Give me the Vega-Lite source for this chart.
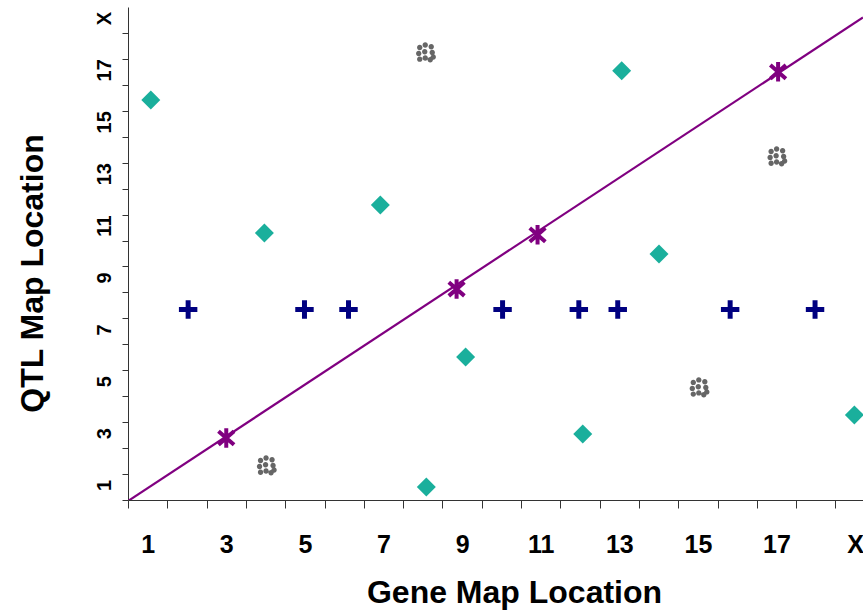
{
  "$schema": "https://vega.github.io/schema/vega-lite/v6.json",
  "width": 735,
  "height": 493,
  "autosize": {"type": "none"},
  "padding": {"left": 128, "top": 7, "right": 0, "bottom": 110},
  "background": "white",
  "config": {"view": {"stroke": null}, "font": "Liberation Sans"},
  "datasets": {
    "diamonds": [
      {"gene": 1.08, "qtl": 15.92}, {"gene": 3.97, "qtl": 10.79}, {"gene": 6.92, "qtl": 11.87},
      {"gene": 8.09, "qtl": 1.0}, {"gene": 9.09, "qtl": 6.01}, {"gene": 12.07, "qtl": 3.04},
      {"gene": 13.06, "qtl": 17.04}, {"gene": 14.01, "qtl": 9.98}, {"gene": 18.98, "qtl": 3.78}
    ],
    "crosses": [
      {"gene": 2.03, "qtl": 7.84}, {"gene": 4.99, "qtl": 7.84}, {"gene": 6.11, "qtl": 7.84},
      {"gene": 10.03, "qtl": 7.84}, {"gene": 11.97, "qtl": 7.84}, {"gene": 12.96, "qtl": 7.84},
      {"gene": 15.82, "qtl": 7.84}, {"gene": 17.98, "qtl": 7.84}
    ],
    "stars": [
      {"gene": 3.0, "qtl": 2.89}, {"gene": 8.86, "qtl": 8.63}, {"gene": 10.92, "qtl": 10.72}, {"gene": 17.04, "qtl": 17.0}
    ],
    "clusters": [
      {"gene": 8.07, "qtl": 17.73}, {"gene": 4.02, "qtl": 1.81}, {"gene": 15.03, "qtl": 4.82}, {"gene": 17.01, "qtl": 13.72}
    ],
    "diag": [
      {"gene": 0.5, "qtl": 0.46}, {"gene": 19.2, "qtl": 19.1}
    ]
  },
  "encoding": {
    "x": {
      "field": "gene", "type": "quantitative",
      "scale": {"domain": [0.5, 19.2], "nice": false, "zero": false},
      "axis": {
        "title": "Gene Map Location",
        "values": [0.5,1,1.5,2,2.5,3,3.5,4,4.5,5,5.5,6,6.5,7,7.5,8,8.5,9,9.5,10,10.5,11,11.5,12,12.5,13,13.5,14,14.5,15,15.5,16,16.5,17,17.5,18,18.5,19],
        "labelExpr": "datum.value % 2 == 1 ? (datum.value == 19 ? 'X' : '' + datum.value) : ''",
        "labelOverlap": false,
        "labelBound": false,
        "labelFlush": false,
        "grid": false,
        "domainColor": "#333333",
        "tickColor": "#333333",
        "tickSize": 8,
        "tickOpacity": {"condition": {"test": "datum.value % 1 == 0", "value": 0}, "value": 1},
        "labelFont": "Liberation Sans",
        "labelFontSize": 25,
        "labelFontWeight": "bold",
        "labelColor": "black",
        "labelPadding": 24,
        "titleFont": "Liberation Sans",
        "titleFontSize": 32,
        "titleFontWeight": "bold",
        "titleColor": "black",
        "titleX": 386,
        "titleY": 102,
        "titleBaseline": "alphabetic",
        "titleAnchor": "middle"
      }
    },
    "y": {
      "field": "qtl", "type": "quantitative",
      "scale": {"domain": [0.5, 19.5], "nice": false, "zero": false},
      "axis": {
        "title": "QTL Map Location",
        "values": [0.5,1,1.5,2,2.5,3,3.5,4,4.5,5,5.5,6,6.5,7,7.5,8,8.5,9,9.5,10,10.5,11,11.5,12,12.5,13,13.5,14,14.5,15,15.5,16,16.5,17,17.5,18,18.5,19],
        "labelExpr": "datum.value % 2 == 1 ? (datum.value == 19 ? 'X' : '' + datum.value) : ''",
        "labelOverlap": false,
        "labelBound": false,
        "labelFlush": false,
        "grid": false,
        "domainColor": "#333333",
        "tickColor": "#333333",
        "tickSize": 6,
        "tickOpacity": {"condition": {"test": "datum.value % 1 == 0", "value": 0}, "value": 1},
        "labelFont": "Liberation Sans",
        "labelFontSize": 20,
        "labelFontWeight": "bold",
        "labelColor": "black",
        "labelAngle": 270,
        "labelAlign": "center",
        "labelBaseline": "alphabetic",
        "labelPadding": 12,
        "labelOffset": -2,
        "titleFont": "Liberation Sans",
        "titleFontSize": 32,
        "titleFontWeight": "bold",
        "titleColor": "black",
        "titleAngle": 270,
        "titleX": -86,
        "titleY": 266,
        "titleBaseline": "alphabetic",
        "titleAlign": "center"
      }
    }
  },
  "layer": [
    {
      "data": {"name": "diag"},
      "mark": {"type": "line", "color": "#800080", "strokeWidth": 2.2, "clip": true}
    },
    {
      "data": {"name": "clusters"},
      "mark": {
        "type": "point", "filled": true, "color": "#666666", "opacity": 1, "size": 400,
        "shape": "M-0.85,-0.55a0.27,0.27 0 1,0 0.54,0a0.27,0.27 0 1,0 -0.54,0M-0.3,-0.8a0.27,0.27 0 1,0 0.54,0a0.27,0.27 0 1,0 -0.54,0M0.3,-0.62a0.27,0.27 0 1,0 0.54,0a0.27,0.27 0 1,0 -0.54,0M-0.95,0.05a0.27,0.27 0 1,0 0.54,0a0.27,0.27 0 1,0 -0.54,0M-0.35,-0.12a0.27,0.27 0 1,0 0.54,0a0.27,0.27 0 1,0 -0.54,0M0.4,-0.05a0.27,0.27 0 1,0 0.54,0a0.27,0.27 0 1,0 -0.54,0M-0.85,0.62a0.27,0.27 0 1,0 0.54,0a0.27,0.27 0 1,0 -0.54,0M-0.3,0.5a0.27,0.27 0 1,0 0.54,0a0.27,0.27 0 1,0 -0.54,0M0.2,0.68a0.27,0.27 0 1,0 0.54,0a0.27,0.27 0 1,0 -0.54,0M0.5,0.4a0.27,0.27 0 1,0 0.54,0a0.27,0.27 0 1,0 -0.54,0"
      }
    },
    {
      "data": {"name": "diamonds"},
      "mark": {"type": "point", "shape": "diamond", "filled": true, "color": "#1aaf9c", "opacity": 1, "size": 360}
    },
    {
      "data": {"name": "crosses"},
      "mark": {
        "type": "point", "filled": true, "color": "#000080", "opacity": 1, "size": 340,
        "shape": "M-1,-0.27H-0.27V-1H0.27V-0.27H1V0.27H0.27V1H-0.27V0.27H-1Z"
      }
    },
    {
      "data": {"name": "stars"},
      "mark": {
        "type": "point", "filled": false, "color": "#800080", "opacity": 1, "size": 380, "strokeWidth": 4,
        "shape": "M0,-1V1M-0.8,-0.7L0.8,0.7M-0.8,0.7L0.8,-0.7"
      }
    }
  ]
}
